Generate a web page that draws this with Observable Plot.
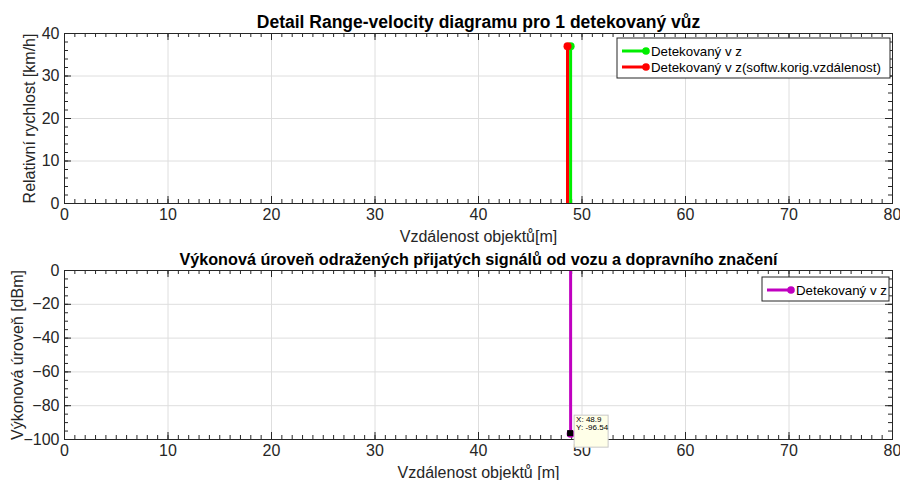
<!DOCTYPE html>
<html>
<head>
<meta charset="utf-8">
<script src="https://cdn.jsdelivr.net/npm/d3@7"></script>
<script src="https://cdn.jsdelivr.net/npm/@observablehq/plot@0.6"></script>
<style>
  html, body { margin: 0; padding: 0; background: #fff; }
  #wrap { width: 900px; height: 480px; position: relative; font-family: "Liberation Sans", Arial, sans-serif; }
  #wrap svg { display: block; overflow: visible; }
</style>
</head>
<body>
<div id="wrap"></div>
<script>
// ---- data ----
const xTicks = [0, 10, 20, 30, 40, 50, 60, 70, 80];
const topYTicks = [0, 10, 20, 30, 40];
const botYTicks = [-100, -80, -60, -40, -20, 0];

const topSeries = ["Detekovaný v z", "Detekovaný v z(softw.korig.vzdálenost)"];
const topRange = [48.9, 48.6];
const topVelocity = [37, 37];
const topColors = ["#00ee00", "#ff0000"];

const botSeries = ["Detekovaný v z"];
const botRange = [48.9];
const botPower = [-96.54];
const botColors = ["#c000c0"];

const titleTop = "Detail Range-velocity diagramu pro 1 detekovaný vůz";
const titleBot = "Výkonová úroveň odražených přijatých signálů od vozu a dopravního značení";
const xLabelTop = "Vzdálenost objektů[m]";
const xLabelBot = "Vzdálenost objektů [m]";
const yLabelTop = "Relativní rychlost [km/h]";
const yLabelBot = "Výkonová úroveň [dBm]";
const tipLines = ["X: 48.9", "Y: -96.54"];

const topData = topSeries.map((s, i) => ({s, x: topRange[i], y: topVelocity[i], c: topColors[i]}));
const botData = botSeries.map((s, i) => ({s, x: botRange[i], y: botPower[i], c: botColors[i]}));

const xMinor = d3.range(0, 81, 1);
const FONT = "Liberation Sans, Arial, sans-serif";
const AX = "#262626";

function boxTicks(xMajorArr, xMinorArr, yMajorArr, yMinorArr, H, W) {
  const maj = 7, min = 4;
  return [
    Plot.tickX(xMinorArr, {x: d => d, stroke: AX, insetTop: H - min}),
    Plot.tickX(xMinorArr, {x: d => d, stroke: AX, insetBottom: H - min}),
    Plot.tickX(xMajorArr, {x: d => d, stroke: AX, insetTop: H - maj}),
    Plot.tickX(xMajorArr, {x: d => d, stroke: AX, insetBottom: H - maj}),
    Plot.tickY(yMinorArr, {y: d => d, stroke: AX, insetRight: W - min}),
    Plot.tickY(yMinorArr, {y: d => d, stroke: AX, insetLeft: W - min}),
    Plot.tickY(yMajorArr, {y: d => d, stroke: AX, insetRight: W - maj}),
    Plot.tickY(yMajorArr, {y: d => d, stroke: AX, insetLeft: W - maj})
  ];
}

const mL = 64, mR = 8, W = 900 - mL - mR;

// ---- top chart ----
const Htop = 170;
const chartTop = Plot.plot({
  width: 900, height: 240,
  marginLeft: mL, marginRight: mR, marginTop: 33, marginBottom: 37,
  style: {fontFamily: FONT, fontSize: "16px", color: "#262626", background: "transparent"},
  x: {domain: [0, 80]},
  y: {domain: [0, 40]},
  marks: [
    Plot.gridX(xTicks, {stroke: "#dedede", strokeOpacity: 1}),
    Plot.gridY(topYTicks, {stroke: "#dedede", strokeOpacity: 1}),
    ...boxTicks(xTicks, xMinor, topYTicks, d3.range(0, 41, 2), Htop, W),
    Plot.axisX(xTicks, {tickSize: 0, tickPadding: 5, fontSize: 16, label: xLabelTop, labelAnchor: "center", labelArrow: "none", labelOffset: 38, fill: "#262626"}),
    Plot.axisY(topYTicks, {tickSize: 0, tickPadding: 5, fontSize: 16, label: yLabelTop, labelAnchor: "center", labelArrow: "none", labelOffset: 41, fill: "#262626"}),
    Plot.ruleX(topData, {x: "x", y1: 0, y2: "y", stroke: "c", strokeWidth: 3}),
    Plot.dot(topData, {x: "x", y: "y", fill: "c", r: 4}),
    Plot.frame({stroke: AX}),
    Plot.text([titleTop], {frameAnchor: "top", dy: -18, text: d => d, fontWeight: "bold", fontSize: 17.5, fill: "#000"})
  ]
});

// ---- bottom chart ----
const Hbot = 169;
const chartBot = Plot.plot({
  width: 900, height: 240,
  marginLeft: mL, marginRight: mR, marginTop: 30, marginBottom: 41,
  style: {fontFamily: FONT, fontSize: "16px", color: "#262626", background: "transparent"},
  x: {domain: [0, 80]},
  y: {domain: [-100, 0]},
  marks: [
    Plot.gridX(xTicks, {stroke: "#dedede", strokeOpacity: 1}),
    Plot.gridY(botYTicks, {stroke: "#dedede", strokeOpacity: 1}),
    ...boxTicks(xTicks, xMinor, botYTicks, d3.range(-100, 1, 5), Hbot, W),
    Plot.axisX(xTicks, {tickSize: 0, tickPadding: 5, fontSize: 16, label: xLabelBot, labelAnchor: "center", labelArrow: "none", labelOffset: 38, fill: "#262626"}),
    Plot.axisY(botYTicks, {tickSize: 0, tickPadding: 5, fontSize: 16, label: yLabelBot, labelAnchor: "center", labelArrow: "none", labelOffset: 53, fill: "#262626"}),
    Plot.ruleX(botData, {x: "x", y1: 0, y2: "y", stroke: "c", strokeWidth: 3}),
    Plot.dot(botData, {x: "x", y: "y", fill: "c", r: 4}),
    Plot.frame({stroke: AX}),
    Plot.text([titleBot], {frameAnchor: "top", dy: -17, text: d => d, fontWeight: "bold", fontSize: 16.2, fill: "#000"})
  ]
});

const wrap = document.getElementById("wrap");
wrap.appendChild(chartTop);
wrap.appendChild(chartBot);

// data tip box (positioned via the plot's scales)
{
  const sx = chartBot.scale("x"), sy = chartBot.scale("y");
  const px = sx.apply(botRange[0]), py = sy.apply(botPower[0]);
  const g = d3.select(chartBot).append("g").attr("text-anchor", "start");
  g.append("rect").attr("x", px + 4).attr("y", py - 18).attr("width", 34).attr("height", 32)
    .attr("fill", "#ffffe8").attr("stroke", "#c8c8c8");
  g.append("rect").attr("x", px - 3).attr("y", py - 3).attr("width", 6).attr("height", 6).attr("fill", "#000");
  tipLines.forEach((t, i) => g.append("text").attr("x", px + 6).attr("y", py - 11 + i * 8)
    .attr("font-size", 8).attr("font-family", FONT).attr("fill", "#000").text(t));
}

// legends
function legend(svg, x, y, w, entries) {
  const lh = 16;
  const g = d3.select(svg).append("g").attr("text-anchor", "start");
  g.append("rect").attr("x", x).attr("y", y).attr("width", w).attr("height", entries.length * lh + 8)
    .attr("fill", "#fff").attr("stroke", AX).attr("stroke-width", 1);
  entries.forEach((e, i) => {
    const cy = y + 4 + lh / 2 + i * lh + 1;
    g.append("line").attr("x1", x + 5).attr("x2", x + 30).attr("y1", cy).attr("y2", cy)
      .attr("stroke", e.c).attr("stroke-width", 3);
    g.append("circle").attr("cx", x + 29).attr("cy", cy).attr("r", 3.8).attr("fill", e.c);
    g.append("text").attr("x", x + 34).attr("y", cy + 5).attr("font-size", 13.3)
      .attr("font-family", FONT).attr("fill", "#000").text(e.s);
  });
}
legend(chartTop, 617, 38, 273, topData);
legend(chartBot, 762, 37, 127, botData);
</script>
</body>
</html>
